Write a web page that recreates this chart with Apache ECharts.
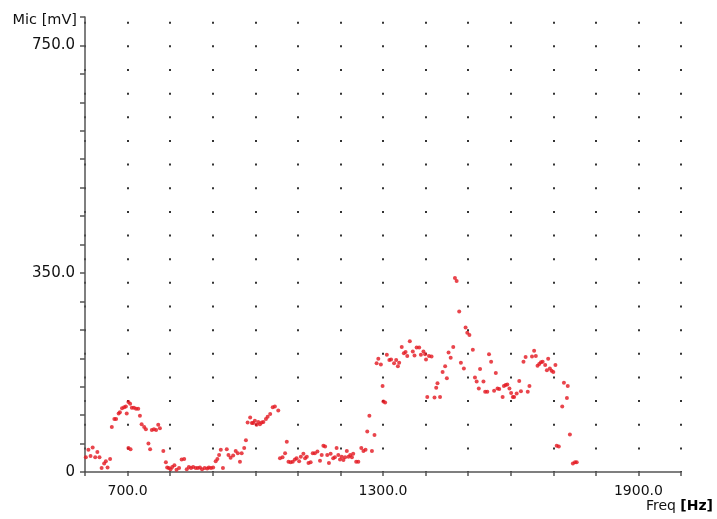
<!DOCTYPE html>
<html>
<head>
<meta charset="utf-8">
<script src="https://cdn.jsdelivr.net/npm/echarts@6/dist/echarts.min.js"></script>
<style>
html,body{margin:0;padding:0;background:#fff;}
#chart{width:717px;height:519px;}
</style>
</head>
<body>
<div id="chart"></div>
<script>
// Frequency (Hz) of each measured point
const freqHz = [
  602,608,613,618,624,629,634,639,645,649,653,659,663,669,673,679,682,687,692,696,
  698,702,702,706,707,710,715,720,725,729,733,739,743,749,753,757,762,767,772,776,
  784,790,793,797,801,805,810,815,821,827,833,839,844,849,854,860,865,870,875,881,
  887,891,896,901,907,911,915,919,924,933,937,942,948,954,959,964,968,974,978,982,
  988,992,995,999,1003,1007,1011,1015,1019,1025,1029,1035,1041,1046,1054,
  1058,1064,1070,1074,1078,1083,1088,1093,1097,1103,1107,1113,1117,1121,1125,1130,1135,1140,1146,1152,
  1156,1160,1164,1169,1173,1177,1183,1187,1191,1195,1199,1203,1207,1211,1215,1219,1223,1227,1230,1237,
  1242,1249,1254,1259,1263,1268,1274,1280,1285,1289,1295,1299,1301,1305,1309,1315,1319,1326,1331,1335,
  1338,1344,1349,1353,1357,1363,1370,1374,1379,1385,1389,1395,1399,1401,1404,1408,1414,1421,1425,1428,
  1434,1440,1446,1450,1454,1459,1465,1469,1473,1479,1483,1490,1494,1498,1503,1511,1516,1520,1525,1528,
  1536,1540,1545,1549,1554,1561,1565,1569,1573,1581,1584,1588,1592,1597,1601,1605,1608,1614,1620,1624,
  1630,1635,1640,1644,1650,1655,1659,1663,1667,1671,1675,1681,1685,1688,1692,1696,1700,1705,1708,1713,
  1721,1725,1732,1734,1739,1746,1751,1755
];
// Microphone level (mV) of each measured point
const micMv = [
  26,39,28,43,26,35,26,7,15,19,8,23,79,93,93,103,105,112,114,115,
  103,123,42,120,40,113,113,111,111,99,84,79,75,50,40,74,75,74,83,77,
  37,17,8,7,5,9,12,4,7,22,23,5,9,7,9,7,7,8,5,7,
  6,8,7,8,19,23,30,39,7,40,30,25,29,37,33,18,33,42,56,87,
  96,86,86,90,83,88,84,87,88,93,97,102,114,115,108,
  24,26,33,53,18,17,18,22,24,19,27,32,24,27,16,17,33,33,36,20,
  30,46,45,30,16,32,24,26,42,30,22,27,21,26,37,27,30,26,32,18,
  18,42,37,39,71,99,37,65,191,199,189,151,124,122,206,197,198,191,197,186,
  192,220,209,211,204,230,212,205,219,219,206,212,207,198,132,204,203,131,148,156,
  132,176,186,165,210,201,220,341,336,282,192,182,254,245,241,215,166,159,147,181,
  159,141,141,207,194,143,174,147,146,132,151,153,154,147,139,132,132,138,160,142,
  194,202,141,151,203,213,204,187,190,193,194,188,179,199,182,178,176,188,46,45,
  115,157,130,151,66,15,17,17
];
// Axis settings / tick labels
const xRange = [600, 2000];
const xStep = 100;
const xLabelValues = [700, 1300, 1900];
const yRange = [0, 800];
const yStep = 50;
const yLabelValues = [0, 350, 750];

const points = freqHz.map((f, i) => [f, micMv[i]]);
const font = '"DejaVu Sans", "Liberation Sans", sans-serif';

const chart = echarts.init(document.getElementById('chart'), null, {renderer: 'canvas'});
chart.setOption({
  animation: false,
  backgroundColor: '#ffffff',
  grid: {left: 85, right: 36, top: 17, bottom: 47},
  xAxis: {
    type: 'value',
    min: xRange[0], max: xRange[1], interval: xStep,
    name: '{a|Freq }{b|[Hz]}',
    nameLocation: 'end',
    nameGap: 32,
    nameTextStyle: {
      align: 'right', verticalAlign: 'top', padding: [27, 0, 0, 0],
      rich: {
        a: {fontFamily: font, fontSize: 14, color: '#111'},
        b: {fontFamily: font, fontSize: 14, color: '#000', fontWeight: 'bold'}
      }
    },
    axisLine: {show: true, lineStyle: {color: '#555', width: 1.5}},
    axisTick: {show: true, inside: false, length: 4, lineStyle: {color: '#555', width: 1.5}},
    axisLabel: {
      margin: 12, fontFamily: font, fontSize: 14, color: '#111',
      showMinLabel: true, showMaxLabel: true,
      formatter: v => xLabelValues.includes(v) ? v.toFixed(1) : ''
    },
    splitLine: {
      show: true,
      lineStyle: {color: '#333', width: 2, type: [2, 21.65], dashOffset: 18.95}
    }
  },
  yAxis: {
    type: 'value',
    min: yRange[0], max: yRange[1], interval: yStep,
    name: 'Mic [mV]',
    nameLocation: 'end',
    nameGap: -3,
    nameTextStyle: {
      fontFamily: font, fontSize: 14.5, color: '#111',
      align: 'right', verticalAlign: 'middle', padding: [0, 8, 0, 0]
    },
    axisLine: {show: true, lineStyle: {color: '#555', width: 1.5}},
    axisTick: {show: true, inside: false, length: 5, lineStyle: {color: '#555', width: 1.5}},
    axisLabel: {
      margin: 10, fontFamily: font, fontSize: 15, color: '#111',
      formatter: v => yLabelValues.includes(v) ? (v === 0 ? '0' : v.toFixed(1)) : ''
    },
    splitLine: {show: false}
  },
  series: [{
    type: 'scatter',
    data: points,
    symbol: 'circle',
    symbolSize: 4,
    itemStyle: {color: '#e3161f'},
    z: 3
  }]
});
</script>
</body>
</html>
